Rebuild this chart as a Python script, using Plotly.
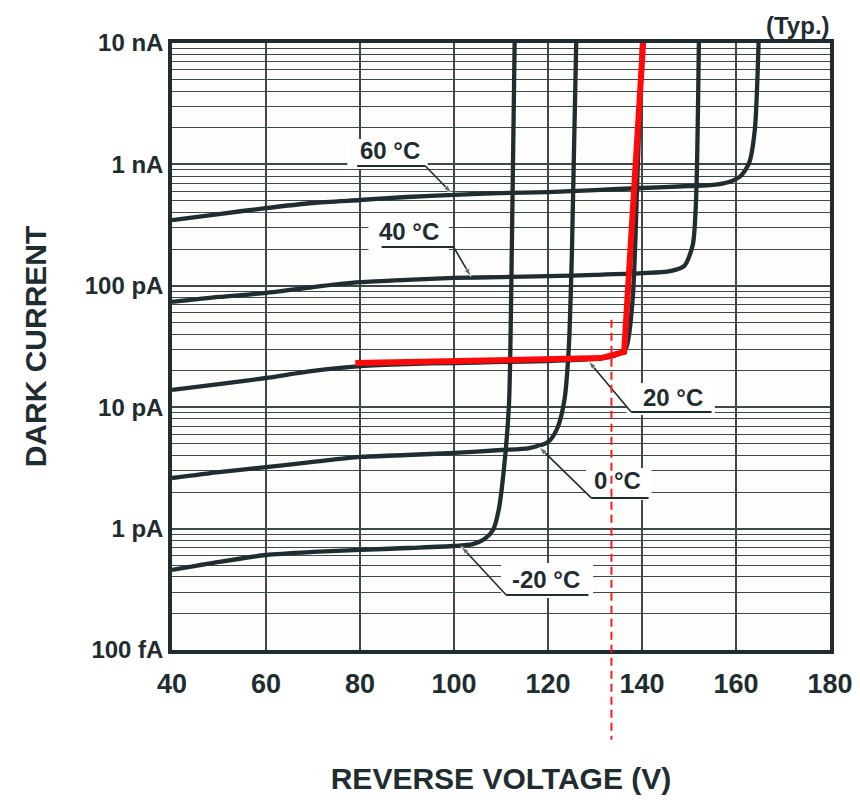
import math
import plotly.graph_objects as go

### Data (reverse voltage in V, dark current in A) ###

voltage_m20 = [40, 50, 60, 70, 80, 90, 100, 104, 106.5, 108.3, 109.5, 110.6, 111.7, 112.3, 112.9]
current_m20 = [4.56e-13, 5.31e-13, 6.06e-13, 6.42e-13, 6.67e-13, 6.92e-13, 7.19e-13, 7.46e-13,
               8.20e-13, 9.73e-13, 1.42e-12, 3.04e-12, 1.06e-11, 1.97e-10, 1e-8]

voltage_0 = [40, 50, 60, 70, 80, 90, 100, 110, 116, 120, 122, 123.5, 124.4, 125.1, 126]
current_0 = [2.61e-12, 2.92e-12, 3.21e-12, 3.54e-12, 3.89e-12, 4.04e-12, 4.20e-12, 4.44e-12,
             4.61e-12, 5.16e-12, 6.74e-12, 1.15e-11, 2.96e-11, 1.97e-10, 1e-8]

voltage_20 = [40, 50, 60, 70, 80, 90, 100, 110, 120, 130, 134, 136.5, 138, 139, 140]
current_20 = [1.39e-11, 1.55e-11, 1.74e-11, 1.99e-11, 2.18e-11, 2.27e-11, 2.31e-11, 2.36e-11,
              2.40e-11, 2.50e-11, 2.64e-11, 3.01e-11, 7.64e-11, 7.44e-10, 1e-8]

voltage_40 = [40, 50, 60, 70, 80, 90, 100, 110, 120, 130, 140, 146, 149, 150.8, 151.5, 152.1]
current_40 = [7.36e-11, 8.09e-11, 8.73e-11, 9.77e-11, 1.07e-10, 1.12e-10, 1.16e-10, 1.18e-10,
              1.20e-10, 1.23e-10, 1.27e-10, 1.32e-10, 1.46e-10, 2.17e-10, 5.09e-10, 1e-8]

voltage_60 = [40, 50, 60, 70, 80, 90, 100, 110, 120, 130, 140, 150, 155, 158.5, 161, 162.8, 164, 164.8]
current_60 = [3.48e-10, 3.90e-10, 4.37e-10, 4.81e-10, 5.09e-10, 5.39e-10, 5.60e-10, 5.81e-10,
              5.92e-10, 6.15e-10, 6.39e-10, 6.64e-10, 6.77e-10, 7.16e-10, 8.02e-10, 1.03e-9,
              1.92e-9, 1e-8]

# Hand-drawn red overlay and the dashed marker
red_voltage = [79, 131.3, 136.2, 140.3]
red_current = [2.31e-11, 2.54e-11, 2.85e-11, 1.1e-8]
marker_voltage = 133.5

# Axis ticks
x_ticks = [40, 60, 80, 100, 120, 140, 160, 180]
y_ticks = [1e-13, 1e-12, 1e-11, 1e-10, 1e-9, 1e-8]
y_tick_text = ["100 fA", "1 pA", "10 pA", "100 pA", "1 nA", "10 nA"]

# Curve labels: text position, underline, leader tip, white knock-out box
labels = [
    dict(text="60 °C", tx=86.3, ty=1.29e-9, u0=79.4, u1=93.9, uy=9.7e-10,
         tipx=99.5, tipy=5.8e-10, bx0=77.3, bx1=94.4, by0=9.16e-10, by1=1.62e-9, side="right"),
    dict(text="40 °C", tx=90.4, ty=2.82e-10, u0=84.6, u1=99.9, uy=2.09e-10,
         tipx=103.6, tipy=1.19e-10, bx0=81.8, bx1=98.9, by0=1.97e-10, by1=3.69e-10, side="right"),
    dict(text="20 °C", tx=146.7, ty=1.21e-11, u0=137.7, u1=154.8, uy=9.12e-12,
         tipx=128.6, tipy=2.40e-11, bx0=136.7, bx1=155.5, by0=8.63e-12, by1=1.58e-11, side="left"),
    dict(text="0 °C", tx=134.7, ty=2.47e-12, u0=129.2, u1=141.4, uy=1.79e-12,
         tipx=118.1, tipy=4.70e-12, bx0=128.1, bx1=142.0, by0=1.72e-12, by1=3.16e-12, side="left"),
    dict(text="-20 °C", tx=119.6, ty=3.78e-13, u0=111.1, u1=128.6, uy=2.84e-13,
         tipx=101.5, tipy=7.15e-13, bx0=110.0, bx1=129.6, by0=2.68e-13, by1=5.21e-13, side="left"),
]

INK = "#1f2c30"
GRID = "#3e484b"
FONT = "Liberation Sans, Arial, sans-serif"

figure = go.Figure()

# Curves
for vx, cy in [(voltage_m20, current_m20), (voltage_0, current_0), (voltage_20, current_20),
               (voltage_40, current_40), (voltage_60, current_60)]:
    figure.add_trace(go.Scatter(
        x=vx, y=cy, mode="lines",
        line=dict(color=INK, width=4.3, shape="spline", smoothing=0.7),
        hoverinfo="skip"
    ))

# Underlines and leader lines with small arrow heads
for lab in labels:
    figure.add_trace(go.Scatter(
        x=[lab["u0"], lab["u1"]], y=[lab["uy"], lab["uy"]], mode="lines",
        line=dict(color=INK, width=2), hoverinfo="skip"
    ))
    start = lab["u1"] if lab["side"] == "right" else lab["u0"]
    figure.add_trace(go.Scatter(
        x=[start, lab["tipx"]], y=[lab["uy"], lab["tipy"]], mode="lines+markers",
        line=dict(color=INK, width=1.6),
        marker=dict(symbol=["circle", "arrow"], size=[0, 9], color=INK, angleref="previous"),
        hoverinfo="skip"
    ))

# Red overlay line
figure.add_trace(go.Scatter(
    x=red_voltage, y=red_current, mode="lines",
    line=dict(color="#ff0a0a", width=6), hoverinfo="skip"
))

shapes = []
# White knock-out boxes behind the labels (above grid, below traces)
for lab in labels:
    shapes.append(dict(type="rect", xref="x", yref="y", x0=lab["bx0"], x1=lab["bx1"],
                       y0=lab["by0"], y1=lab["by1"], fillcolor="white",
                       line=dict(width=0), layer="between"))
# Red dashed vertical marker
shapes.append(dict(type="line", xref="x", yref="paper", x0=marker_voltage, x1=marker_voltage,
                   y0=0.544, y1=-0.148, line=dict(color="#ff1a1a", width=2, dash="8px,5px"),
                   layer="above"))

annotations = []
for lab in labels:
    annotations.append(dict(
        x=lab["tx"], y=math.log10(lab["ty"]), xref="x", yref="y", text=lab["text"],
        showarrow=False, font=dict(family=FONT, size=24, color=INK, weight="bold")
    ))
annotations.append(dict(
    x=1.003, y=1.0, xref="paper", yref="paper", xanchor="right", yanchor="bottom", yshift=2,
    text="(Typ.)", showarrow=False, font=dict(family=FONT, size=24, color=INK, weight="bold")
))

figure.update_layout(
    width=852, height=795,
    margin=dict(l=164, r=30, t=35, b=153),
    paper_bgcolor="white",
    plot_bgcolor="#fdfdfb",
    showlegend=False,
    shapes=shapes,
    annotations=annotations,
    font=dict(family=FONT, color=INK),
    xaxis=dict(
        range=[40, 180], tickvals=x_ticks, ticks="", ticklabelstandoff=7,
        tickfont=dict(size=27, weight="bold", color=INK),
        showgrid=True, gridcolor=GRID, gridwidth=1.6,
        showline=True, linecolor=INK, linewidth=3.5, mirror=True, zeroline=False,
        title=dict(text="REVERSE VOLTAGE (V)", standoff=71,
                   font=dict(size=30, weight="bold", color=INK)),
        automargin=False
    ),
    yaxis=dict(
        type="log", range=[-13, -8], tickvals=y_ticks, ticktext=y_tick_text, ticks="",
        ticklabelstandoff=0,
        tickfont=dict(size=24, weight="bold", color=INK),
        showgrid=True, gridcolor=GRID, gridwidth=1.6,
        minor=dict(dtick="D1", showgrid=True, gridcolor=GRID, gridwidth=1.2, ticks=""),
        showline=True, linecolor=INK, linewidth=3.5, mirror=True, zeroline=False,
        title=dict(text="DARK CURRENT", standoff=30,
                   font=dict(size=30, weight="bold", color=INK)),
        automargin=False
    ),
)

figure.write_html("out.html")
